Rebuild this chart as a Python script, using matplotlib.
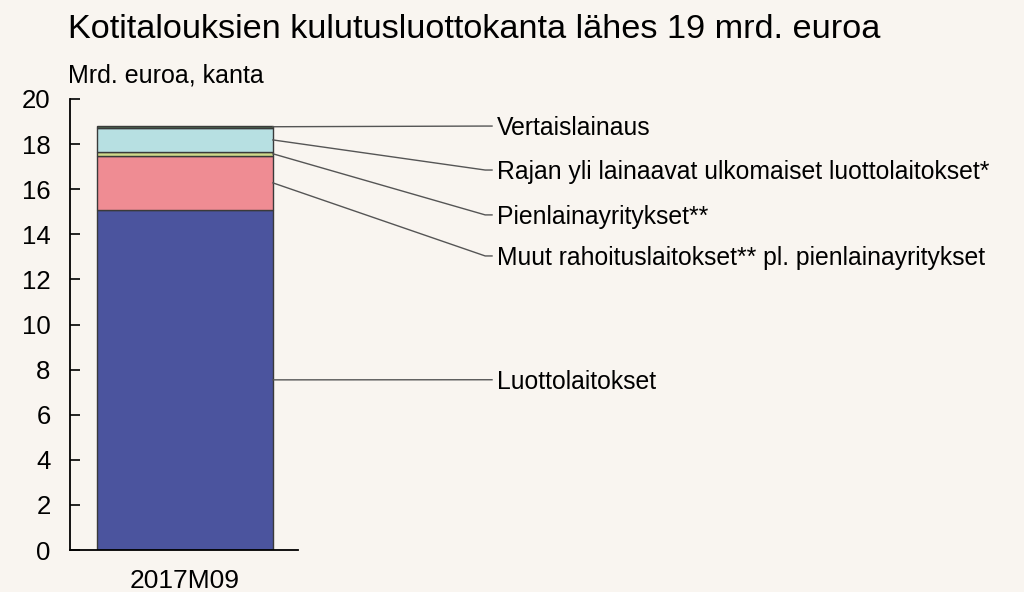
import matplotlib.pyplot as plt

plt.rcParams['font.family'] = ['Liberation Sans', 'DejaVu Sans']

# data, mrd. euroa, 2017M09
period = ['2017M09']
series = ['Luottolaitokset',
          'Muut rahoituslaitokset** pl. pienlainayritykset',
          'Pienlainayritykset**',
          'Rajan yli lainaavat ulkomaiset luottolaitokset*',
          'Vertaislainaus']
values = [15.09, 2.38, 0.20, 1.03, 0.10]
colors = ['#4b549e', '#ef8c93', '#cfd98a', '#b7e0e2', '#4d6b4f']
label_y = [7.55, 13.04, 14.86, 16.85, 18.8]

bg = '#f9f5f0'
fig = plt.figure(figsize=(10.24, 5.92), dpi=100, facecolor=bg)
ax = fig.add_axes([70/1024, 1-550/592, 228/1024, 451/592])
ax.set_facecolor(bg)

bottom = 0
mids = []
for v, c in zip(values, colors):
    ax.bar(0, v, bottom=bottom, width=0.772, color=c, edgecolor='#3a3a3a', linewidth=1.0)
    mids.append(bottom + v / 2)
    bottom += v
mids[-1] = bottom - 0.03

ax.set_xlim(-0.504, 0.496)
ax.set_ylim(0, 20)
ax.set_yticks(range(0, 21, 2))
ax.set_xticks([0])
ax.set_xticklabels(period)
ax.tick_params(axis='y', direction='in', length=7, width=1.2, labelsize=18.5, pad=14)
ax.tick_params(axis='x', length=0, labelsize=19, pad=14)
for s in ['top', 'right']:
    ax.spines[s].set_visible(False)
for s in ['left', 'bottom']:
    ax.spines[s].set_linewidth(1.3)

# leader lines and labels
x_bar = 0.386
x_end = 1.347
for name, m, ly in zip(series, mids, label_y):
    ax.plot([x_bar, x_end - 0.03, x_end], [m, ly, ly], color='#555555', lw=1.0,
            clip_on=False)
    ax.text(x_end + 0.022, ly - 0.08, name, fontsize=17.8, va='center', ha='left')

fig.text(68/1024, 1-30/592, 'Kotitalouksien kulutusluottokanta lähes 19 mrd. euroa',
         fontsize=24.7, va='center', ha='left')
fig.text(68/1024, 1-75/592, 'Mrd. euroa, kanta', fontsize=18, va='center', ha='left')

fig.savefig('out.png', dpi=100, facecolor=bg)
